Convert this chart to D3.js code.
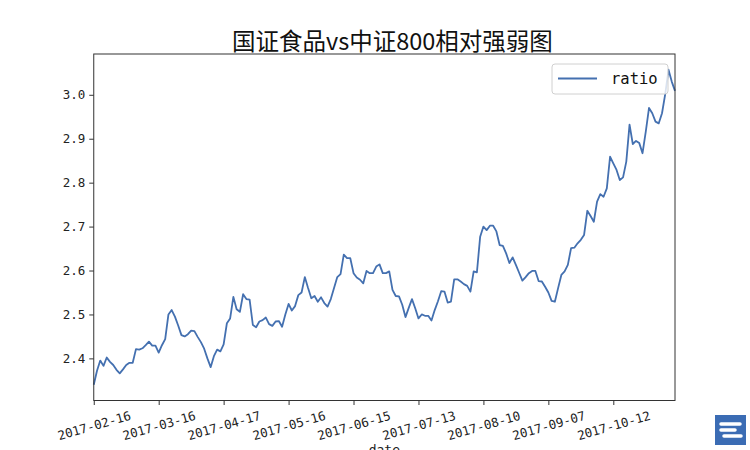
<!DOCTYPE html>
<html>
<head>
<meta charset="utf-8">
<script src="https://cdn.jsdelivr.net/npm/d3@7"></script>
<style>
  html, body { margin: 0; padding: 0; background: #fff; }
  svg { display: block; }
</style>
</head>
<body>
<svg id="chart" width="750" height="450"></svg>
<script>
const title = "国证食品vs中证800相对强弱图";
const seriesName = "ratio";
const xLabel = "date";
const tickIndex = [0, 20, 40, 60, 80, 100, 120, 140, 160];
const tickLabels = ["2017-02-16", "2017-03-16", "2017-04-17", "2017-05-16", "2017-06-15",
                    "2017-07-13", "2017-08-10", "2017-09-07", "2017-10-12"];
const yTicks = [2.4, 2.5, 2.6, 2.7, 2.8, 2.9, 3.0];
const ratio = [
  2.340, 2.372, 2.395, 2.383, 2.402, 2.392, 2.385, 2.374, 2.366, 2.375,
  2.385, 2.390, 2.390, 2.421, 2.420, 2.423, 2.430, 2.438, 2.429, 2.429,
  2.413, 2.430, 2.444, 2.500, 2.510, 2.495, 2.475, 2.453, 2.450, 2.455,
  2.463, 2.462, 2.449, 2.437, 2.422, 2.400, 2.380, 2.405, 2.420, 2.416,
  2.432, 2.480, 2.491, 2.540, 2.512, 2.506, 2.546, 2.535, 2.534, 2.476,
  2.471, 2.484, 2.487, 2.493, 2.478, 2.474, 2.484, 2.485, 2.472, 2.500,
  2.524, 2.509, 2.519, 2.544, 2.550, 2.585, 2.560, 2.537, 2.542, 2.529,
  2.539, 2.526, 2.518, 2.535, 2.560, 2.585, 2.592, 2.636, 2.628, 2.628,
  2.594, 2.584, 2.579, 2.571, 2.599, 2.594, 2.594, 2.609, 2.614, 2.594,
  2.594, 2.598, 2.556, 2.542, 2.541, 2.522, 2.494, 2.515, 2.535, 2.514,
  2.491, 2.500, 2.497, 2.497, 2.486, 2.510, 2.530, 2.553, 2.552, 2.527,
  2.529, 2.580, 2.580, 2.575, 2.569, 2.565, 2.552, 2.598, 2.596, 2.677,
  2.700, 2.692, 2.702, 2.702, 2.689, 2.658, 2.656, 2.639, 2.617, 2.630,
  2.613, 2.595, 2.577, 2.585, 2.594, 2.599, 2.599, 2.576, 2.575, 2.563,
  2.550, 2.531, 2.529, 2.560, 2.590, 2.598, 2.613, 2.651, 2.652, 2.662,
  2.670, 2.681, 2.736, 2.724, 2.711, 2.757, 2.774, 2.768, 2.787, 2.859,
  2.844, 2.829, 2.806, 2.812, 2.848, 2.932, 2.888, 2.895, 2.890, 2.867,
  2.916, 2.970, 2.958, 2.939, 2.935, 2.958, 3.002, 3.057, 3.030, 3.009
];

const W = 750, H = 450;
const M = { left: 93.75, right: 675, top: 54, bottom: 400.5 };
const lineColor = "#4470b0";
const monoFont = "'DejaVu Sans Mono', 'Liberation Mono', monospace";
const cjkFont = "'Noto Sans CJK SC', 'Noto Sans', sans-serif";

const svg = d3.select("#chart");

const x = d3.scaleLinear().domain([0, ratio.length - 1]).range([M.left, M.right]);
const [lo, hi] = d3.extent(ratio);
const pad = (hi - lo) * 0.05;
const y = d3.scaleLinear().domain([lo - pad, hi + pad]).range([M.bottom, M.top]);

// line
const line = d3.line().x((d, i) => x(i)).y(d => y(d));
svg.append("path")
  .datum(ratio)
  .attr("d", line)
  .attr("fill", "none")
  .attr("stroke", lineColor)
  .attr("stroke-width", 1.8)
  .attr("stroke-linejoin", "round");

// frame
svg.append("rect")
  .attr("x", M.left).attr("y", M.top)
  .attr("width", M.right - M.left).attr("height", M.bottom - M.top)
  .attr("fill", "none").attr("stroke", "#333").attr("stroke-width", 1);

// y axis
const yAxis = d3.axisLeft(y).tickValues(yTicks).tickFormat(d3.format(".1f"))
  .tickSize(4.5).tickPadding(4);
const gy = svg.append("g").attr("transform", `translate(${M.left},0)`).call(yAxis);
gy.select(".domain").remove();
gy.selectAll("line").attr("stroke", "#333");
gy.selectAll("text").attr("font-family", monoFont).attr("font-size", 12.5).attr("fill", "#222");

// x axis
const xAxis = d3.axisBottom(x).tickValues(tickIndex)
  .tickFormat((d, i) => tickLabels[i]).tickSize(4.5);
const gx = svg.append("g").attr("transform", `translate(0,${M.bottom})`).call(xAxis);
gx.select(".domain").remove();
gx.selectAll("line").attr("stroke", "#333");
gx.selectAll("text")
  .attr("font-family", monoFont).attr("font-size", 12.5).attr("fill", "#222")
  .attr("y", 0).attr("dy", null)
  .attr("text-anchor", "middle")
  .attr("dominant-baseline", "central")
  .attr("transform", "translate(0,25) rotate(-16)");

// x label
svg.append("text")
  .attr("x", (M.left + M.right) / 2).attr("y", 454)
  .attr("text-anchor", "middle")
  .attr("font-family", monoFont).attr("font-size", 13).attr("fill", "#222")
  .text(xLabel);

// title
svg.append("text")
  .attr("x", (M.left + M.right) / 2 + 8).attr("y", 40)
  .attr("text-anchor", "middle").attr("dominant-baseline", "central")
  .attr("font-family", cjkFont).attr("font-size", 23.5).attr("font-weight", 400).attr("fill", "#111")
  .text(title);

// legend
const lg = svg.append("g");
lg.append("rect")
  .attr("x", 552).attr("y", 64).attr("width", 116).attr("height", 30).attr("rx", 3)
  .attr("fill", "#fff").attr("fill-opacity", 0.8)
  .attr("stroke", "#d0d0d0").attr("stroke-width", 1);
lg.append("line")
  .attr("x1", 558).attr("x2", 597).attr("y1", 78.5).attr("y2", 78.5)
  .attr("stroke", lineColor).attr("stroke-width", 1.8);
lg.append("text")
  .attr("x", 611).attr("y", 79).attr("dominant-baseline", "central")
  .attr("font-family", monoFont).attr("font-size", 15.5).attr("fill", "#111")
  .text(seriesName);

// watermark badge
const wm = svg.append("g").attr("transform", "translate(715,415)");
wm.append("rect").attr("width", 31).attr("height", 30).attr("fill", "#3b6cb4");
wm.append("path").attr("d", "M6,9 H25 M6,15 H20 M9,21 H26")
  .attr("stroke", "#fff").attr("stroke-width", 3.5).attr("fill", "none").attr("stroke-linecap", "round");
</script>
</body>
</html>
